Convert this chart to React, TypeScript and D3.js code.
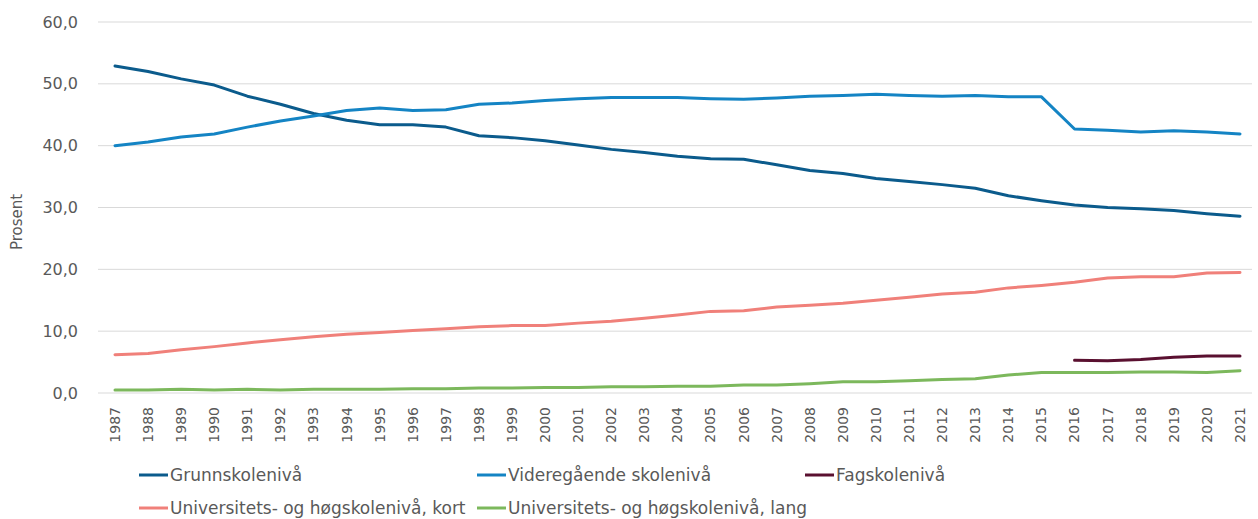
import { useEffect, useRef } from 'react';
import * as d3 from 'd3';

const years = d3.range(1987, 2022);

const grunnskole = [
  52.9, 52.0, 50.8, 49.8, 48.0, 46.7, 45.2, 44.1, 43.4, 43.4, 43.0, 41.6, 41.3, 40.8, 40.1,
  39.4, 38.9, 38.3, 37.9, 37.8, 36.9, 36.0, 35.5, 34.7, 34.2, 33.7, 33.1, 31.9, 31.1, 30.4,
  30.0, 29.8, 29.5, 29.0, 28.6,
];
const videregaende = [
  40.0, 40.6, 41.4, 41.9, 43.0, 44.0, 44.8, 45.7, 46.1, 45.7, 45.8, 46.7, 46.9, 47.3, 47.6,
  47.8, 47.8, 47.8, 47.6, 47.5, 47.7, 48.0, 48.1, 48.3, 48.1, 48.0, 48.1, 47.9, 47.9, 42.7,
  42.5, 42.2, 42.4, 42.2, 41.9,
];
const fagskole = [
  null, null, null, null, null, null, null, null, null, null, null, null, null, null, null,
  null, null, null, null, null, null, null, null, null, null, null, null, null, null, 5.3,
  5.2, 5.4, 5.8, 6.0, 6.0,
];
const uniKort = [
  6.2, 6.4, 7.0, 7.5, 8.1, 8.6, 9.1, 9.5, 9.8, 10.1, 10.4, 10.7, 10.9, 10.9, 11.3,
  11.6, 12.1, 12.6, 13.2, 13.3, 13.9, 14.2, 14.5, 15.0, 15.5, 16.0, 16.3, 17.0, 17.4, 17.9,
  18.6, 18.8, 18.8, 19.4, 19.5,
];
const uniLang = [
  0.5, 0.5, 0.6, 0.5, 0.6, 0.5, 0.6, 0.6, 0.6, 0.7, 0.7, 0.8, 0.8, 0.9, 0.9,
  1.0, 1.0, 1.1, 1.1, 1.3, 1.3, 1.5, 1.8, 1.8, 2.0, 2.2, 2.3, 2.9, 3.3, 3.3,
  3.3, 3.4, 3.4, 3.3, 3.6,
];

const seriesNames = [
  'Grunnskolenivå',
  'Videregående skolenivå',
  'Fagskolenivå',
  'Universitets- og høgskolenivå, kort',
  'Universitets- og høgskolenivå, lang',
];
const seriesValues = [grunnskole, videregaende, fagskole, uniKort, uniLang];
const colors = ['#0b5b8c', '#1484c4', '#5a1030', '#f0807a', '#7cb85c'];
const yTicks = [0, 10, 20, 30, 40, 50, 60];

const width = 1258;
const height = 519;
const font = '"DejaVu Sans", sans-serif';
const textColor = '#595959';

const Chart = () => {
  const ref = useRef<SVGSVGElement>(null);

  useEffect(() => {
    const svg = d3.select(ref.current);
    svg.selectAll('*').remove();

    const x = d3.scalePoint<number>().domain(years).range([115, 1240]);
    const y = d3.scaleLinear().domain([0, 60]).range([393, 22]);

    // gridlines
    svg
      .append('g')
      .selectAll('line')
      .data(yTicks)
      .join('line')
      .attr('x1', 98)
      .attr('x2', 1252)
      .attr('y1', (d) => y(d))
      .attr('y2', (d) => y(d))
      .attr('stroke', '#d9d9d9')
      .attr('stroke-width', 1);

    // y labels
    svg
      .append('g')
      .selectAll('text')
      .data(yTicks)
      .join('text')
      .attr('x', 78)
      .attr('y', (d) => y(d))
      .attr('dy', '0.35em')
      .attr('text-anchor', 'end')
      .attr('font-family', font)
      .attr('font-size', 16)
      .attr('fill', textColor)
      .text((d) => d3.format('.1f')(d).replace('.', ','));

    svg
      .append('text')
      .attr('transform', 'translate(17,222) rotate(-90)')
      .attr('dy', '0.35em')
      .attr('text-anchor', 'middle')
      .attr('font-family', font)
      .attr('font-size', 15)
      .attr('fill', textColor)
      .text('Prosent');

    // x labels
    svg
      .append('g')
      .selectAll('text')
      .data(years)
      .join('text')
      .attr('transform', (d) => `translate(${x(d)},407) rotate(-90)`)
      .attr('dy', '0.35em')
      .attr('text-anchor', 'end')
      .attr('font-family', font)
      .attr('font-size', 14)
      .attr('fill', textColor)
      .text((d) => d);

    const line = d3
      .line<number | null>()
      .defined((d) => d != null)
      .x((_, i) => x(years[i]) as number)
      .y((d) => y(d as number));

    svg
      .append('g')
      .selectAll('path')
      .data(seriesValues)
      .join('path')
      .attr('d', (d) => line(d))
      .attr('fill', 'none')
      .attr('stroke', (_, i) => colors[i])
      .attr('stroke-width', 3)
      .attr('stroke-linejoin', 'round')
      .attr('stroke-linecap', 'round');

    // legend
    const legendPos = [
      [139, 475],
      [477, 475],
      [805, 475],
      [139, 508],
      [477, 508],
    ];
    const legend = svg
      .append('g')
      .selectAll('g')
      .data(seriesNames)
      .join('g')
      .attr('transform', (_, i) => `translate(${legendPos[i][0]},${legendPos[i][1]})`);
    legend
      .append('line')
      .attr('x1', 0)
      .attr('x2', 29)
      .attr('stroke', (_, i) => colors[i])
      .attr('stroke-width', 3);
    legend
      .append('text')
      .attr('x', 31)
      .attr('dy', '0.35em')
      .attr('font-family', font)
      .attr('font-size', 17)
      .attr('fill', textColor)
      .text((d) => d);
  }, []);

  return (
    <svg
      ref={ref}
      width={width}
      height={height}
      style={{ position: 'absolute', left: 0, top: 0, background: '#fff' }}
    />
  );
};

export default function App() {
  return (
    <div>
      <Chart />
    </div>
  );
}
